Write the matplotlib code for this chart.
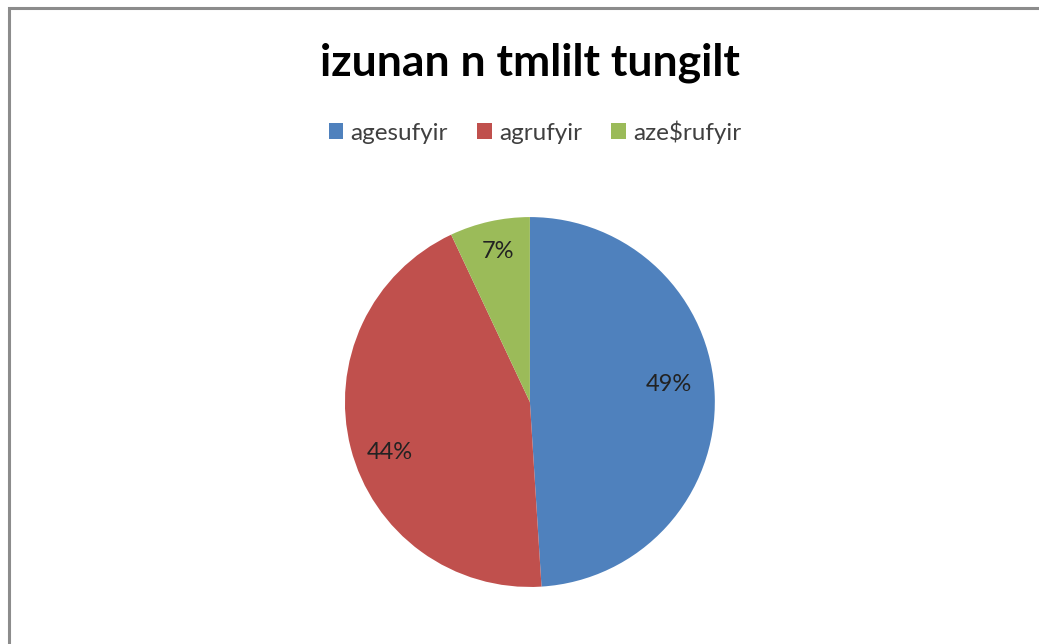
import matplotlib.pyplot as plt
from matplotlib.patches import Rectangle

labels = ['agesufyir', 'agrufyir', 'aze$rufyir']
values = [49, 44, 7]
colors = ['#4F81BD', '#C0504D', '#9BBB59']

plt.rcParams['font.family'] = ['Lato', 'DejaVu Sans']

fig = plt.figure(figsize=(10.39, 6.44), dpi=100)

# grey frame around the chart area, cut by right and bottom edges
W, H = 1039, 644
fig.patches.append(Rectangle((8.5 / W, -0.1), 1.2, (H - 8.5) / H + 0.1,
                             transform=fig.transFigure, fill=False,
                             edgecolor='#8c8c8c', linewidth=2.2))

ax = fig.add_axes([0.332, 0.0885, 0.356, 0.5745])
wedges, texts, autotexts = ax.pie(values, colors=colors, startangle=90, counterclock=False,
                                  autopct='%1.0f%%', pctdistance=0.78,
                                  textprops=dict(fontsize=17, color='#222222'))
# nudge labels a bit, like the spreadsheet's placement
nudges = [(-0.03, 0.07), (0.0, -0.08), (0.0, 0.05)]
for t, (dx, dy) in zip(autotexts, nudges):
    x, y = t.get_position()
    t.set_position((x + dx, y + dy))

ax.set_xlim(-1, 1)
ax.set_ylim(-1, 1)
ax.set_aspect('equal')

fig.text(0.51, 0.903, 'izunan n tmlilt tungilt', ha='center', va='center',
         fontsize=32, fontweight='bold', color='black')

fig.legend(wedges, labels, loc='center', bbox_to_anchor=(0.515, 0.795), ncol=3,
           frameon=False, fontsize=17.5, handlelength=0.6, handleheight=0.6,
           handletextpad=0.3, columnspacing=1.2, labelcolor='#404040')

fig.savefig('out.png', dpi=100)
